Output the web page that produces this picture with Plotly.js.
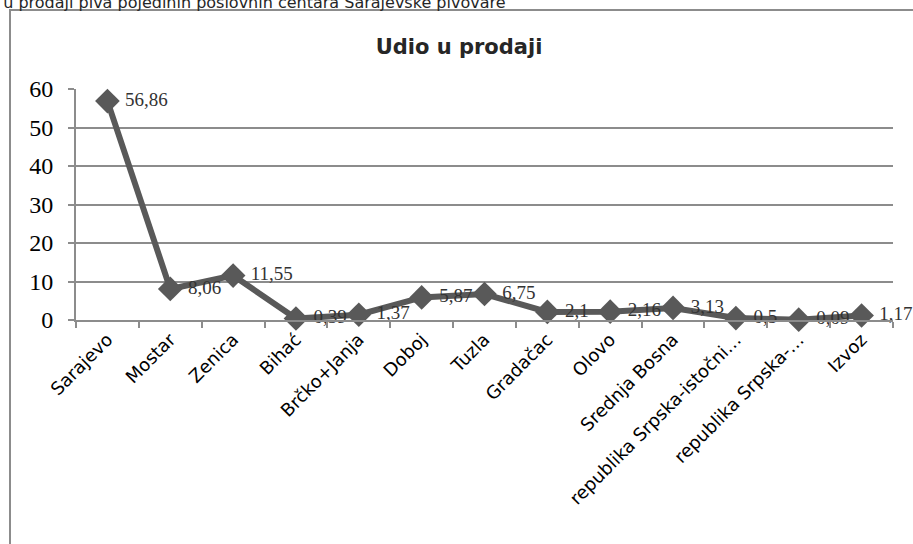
<!DOCTYPE html>
<html>
<head>
<meta charset="utf-8">
<script src="https://cdn.plot.ly/plotly-3.0.1.min.js"></script>
<style>html,body{margin:0;padding:0;background:#fff;}#chart{width:913px;height:544px;}</style>
</head>
<body>
<div id="chart"></div>
<script>
const categories = ["Sarajevo","Mostar","Zenica","Bihać","Brčko+Janja","Doboj","Tuzla","Gradačac","Olovo","Srednja Bosna","republika Srpska-istočni…","republika Srpska-…","Izvoz"];
const values = [56.86, 8.06, 11.55, 0.39, 1.37, 5.87, 6.75, 2.1, 2.16, 3.13, 0.5, 0.09, 1.17];
const yTicks = [0, 10, 20, 30, 40, 50, 60];
const chartTitle = "Udio u prodaji";
const headerText = "Udio u prodaji piva pojedinih poslovnih centara Sarajevske pivovare";

const labels = values.map(v => '\u00a0' + String(v).replace('.', ','));

const L = 76, R = 893, T = 89, B = 320, W = 913, H = 544;
const px = x => (x - L) / (R - L);
const py = y => (B - y) / (B - T);

const trace = {
  x: categories,
  y: values,
  type: 'scatter',
  mode: 'lines+markers+text',
  text: labels,
  textposition: 'middle right',
  textfont: {family: 'Liberation Serif, Times New Roman, serif', size: 19, color: '#333333'},
  line: {color: '#595959', width: 6},
  marker: {symbol: 'diamond', size: 19, color: '#595959'},
  cliponaxis: false,
  hoverinfo: 'skip'
};

const layout = {
  width: W, height: H,
  margin: {l: L, r: W - R, t: T, b: H - B, pad: 0},
  paper_bgcolor: '#ffffff',
  plot_bgcolor: '#ffffff',
  showlegend: false,
  title: {
    text: '<b>' + chartTitle + '</b>',
    font: {family: 'DejaVu Sans, sans-serif', size: 21, color: '#262626'},
    xref: 'container', yref: 'container',
    x: 459 / W, y: 1 - 47 / H, xanchor: 'center', yanchor: 'middle'
  },
  xaxis: {
    type: 'category',
    range: [-0.5, categories.length - 0.5],
    tickangle: -45,
    tickfont: {family: 'DejaVu Sans, sans-serif', size: 18, color: '#000000'},
    ticks: 'outside', ticklen: 6, tickwidth: 2, tickcolor: '#8c8c8c',
    tickson: 'boundaries',
    showline: true, linecolor: '#8c8c8c', linewidth: 2,
    showgrid: false, zeroline: false,
    automargin: false
  },
  yaxis: {
    range: [0, 60],
    tickvals: yTicks,
    ticktext: yTicks.map(String),
    tickfont: {family: 'Liberation Serif, Times New Roman, serif', size: 24, color: '#000000'},
    ticks: 'outside', ticklen: 6, tickwidth: 2, tickcolor: '#8c8c8c',
    ticklabelstandoff: 10,
    showline: true, linecolor: '#8c8c8c', linewidth: 2,
    showgrid: true, gridcolor: '#8c8c8c', gridwidth: 2,
    zeroline: false,
    automargin: false
  },
  shapes: [{
    type: 'rect', xref: 'paper', yref: 'paper',
    x0: px(10), x1: px(930), y0: py(10), y1: py(560),
    line: {color: '#8c8c8c', width: 2}, fillcolor: 'rgba(0,0,0,0)', layer: 'below'
  }],
  annotations: [{
    text: headerText,
    xref: 'paper', yref: 'paper',
    x: px(-40), y: py(14), xanchor: 'left', yanchor: 'bottom',
    showarrow: false,
    font: {family: 'DejaVu Sans, sans-serif', size: 16, color: '#262626'}
  }]
};

Plotly.newPlot('chart', [trace], layout, {displayModeBar: false, staticPlot: true});
</script>
</body>
</html>
